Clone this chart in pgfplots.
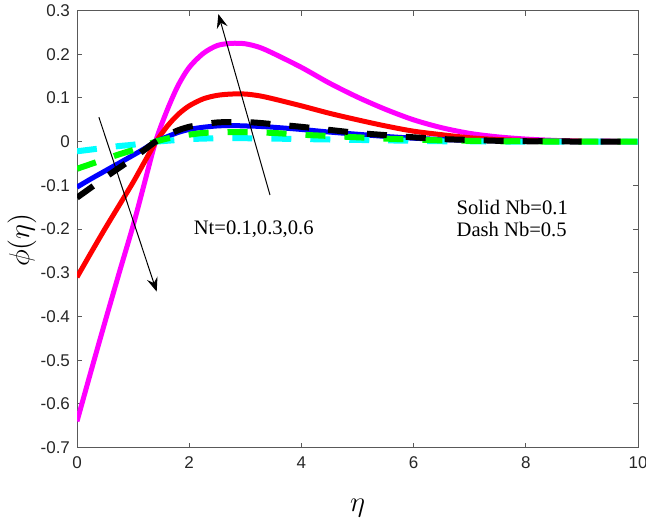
\documentclass[border=0pt]{standalone}
\usepackage{fontspec}
\setmainfont{Liberation Serif}
\newfontfamily\arial{Liberation Sans}
\usepackage{pgfplots}
\pgfplotsset{compat=1.18}
\usetikzlibrary{arrows.meta}
\definecolor{mag}{RGB}{255,0,255}
\definecolor{myred}{RGB}{255,0,0}
\definecolor{myblue}{RGB}{0,0,255}
\definecolor{mygreen}{RGB}{0,255,0}
\definecolor{mycyan}{RGB}{0,255,255}
\begin{document}
\begin{tikzpicture}
\path[use as bounding box] (-38.5pt,-35pt) rectangle (284.5pt,223.8pt);
\begin{axis}[
  at={(0,0)}, anchor=south west,
  scale only axis, width=280.5pt, height=218.5pt,
  xmin=0, xmax=10, ymin=-0.7, ymax=0.3,
  xtick={0,2,4,6,8,10},
  ytick={-0.7,-0.6,-0.5,-0.4,-0.3,-0.2,-0.1,0,0.1,0.2,0.3},
  tick align=inside,
  major tick length=2.5pt,
  axis line style={black!65, line width=0.5pt},
  every tick/.style={black!65, line width=0.5pt},
  /pgf/number format/assume math mode=true,
  tick label style={font=\arial\fontsize{8.5}{10}\selectfont, text=black!85},
  yticklabel style={/pgf/number format/fixed, /pgf/number format/precision=1},
  xticklabel style={yshift=-1pt},
  xlabel={$\eta$},
  ylabel={$\phi(\eta)$},
  every axis x label/.style={at={([yshift=-30pt]axis description cs:0.5,0)}, anchor=center, font=\fontsize{13.5}{15}\selectfont},
  every axis y label/.style={at={([xshift=-27.5pt]axis description cs:0,0.475)}, anchor=center, rotate=90, font=\fontsize{13.5}{15}\selectfont},
]
% Solid Nb=0.1, Nt=0.6 (magenta)
\addplot[mag, line width=2.5pt, smooth] coordinates {
(0,-0.640)(0.25,-0.525)(0.5,-0.412)(0.75,-0.301)(1.0,-0.192)(1.2,-0.096)(1.4,0)(1.6,0.070)(1.8,0.128)(2.0,0.170)(2.25,0.202)(2.5,0.220)(2.75,0.225)(3.0,0.224)(3.25,0.216)(3.5,0.202)(4.0,0.170)(4.5,0.134)(5.0,0.102)(5.5,0.074)(6.0,0.050)(6.5,0.032)(7.0,0.019)(7.5,0.011)(8.0,0.006)(8.5,0.003)(9.0,0.001)(9.5,0.001)(10,0)};
% Solid Nb=0.1, Nt=0.3 (red)
\addplot[myred, line width=2.5pt, smooth] coordinates {
(0,-0.310)(0.25,-0.254)(0.5,-0.199)(0.75,-0.146)(1.0,-0.093)(1.2,-0.047)(1.4,-0.002)(1.6,0.034)(1.8,0.062)(2.0,0.082)(2.25,0.098)(2.5,0.106)(2.75,0.109)(3.0,0.109)(3.25,0.105)(3.5,0.098)(4.0,0.082)(4.5,0.065)(5.0,0.050)(5.5,0.036)(6.0,0.024)(6.5,0.016)(7.0,0.009)(7.5,0.005)(8.0,0.003)(8.5,0.002)(9.0,0.001)(9.5,0)(10,0)};
% Solid Nb=0.1, Nt=0.1 (blue)
\addplot[myblue, line width=2.5pt, smooth] coordinates {
(0,-0.104)(0.25,-0.085)(0.5,-0.067)(0.75,-0.049)(1.0,-0.031)(1.2,-0.016)(1.4,0)(1.6,0.011)(1.8,0.021)(2.0,0.028)(2.25,0.033)(2.5,0.036)(2.75,0.037)(3.0,0.036)(3.25,0.035)(3.5,0.033)(4.0,0.028)(4.5,0.022)(5.0,0.017)(5.5,0.012)(6.0,0.008)(6.5,0.005)(7.0,0.003)(7.5,0.002)(8.0,0.001)(8.5,0.001)(9.0,0)(9.5,0)(10,0)};
% Dash Nb=0.5, cyan
\addplot[mycyan, line width=3pt, smooth, dash pattern=on 10pt off 9.5pt] coordinates {
(0,-0.022)(0.25,-0.018)(0.5,-0.014)(0.75,-0.010)(1.0,-0.007)(1.2,-0.003)(1.4,0)(1.6,0.002)(1.8,0.004)(2.0,0.006)(2.25,0.007)(2.5,0.008)(2.75,0.008)(3.0,0.008)(3.25,0.007)(3.5,0.007)(4.0,0.006)(4.5,0.005)(5.0,0.004)(5.5,0.003)(6.0,0.002)(6.5,0.001)(7.0,0.001)(7.5,0)(8.0,0)(8.5,0)(9.0,0)(9.5,0)(10,0)};
% Dash Nb=0.5, green
\addplot[mygreen, line width=3pt, smooth, dash pattern=on 10pt off 9.5pt] coordinates {
(0,-0.062)(0.25,-0.051)(0.5,-0.040)(0.75,-0.029)(1.0,-0.019)(1.2,-0.009)(1.4,0)(1.6,0.007)(1.8,0.012)(2.0,0.016)(2.25,0.020)(2.5,0.021)(2.75,0.022)(3.0,0.022)(3.25,0.021)(3.5,0.020)(4.0,0.016)(4.5,0.013)(5.0,0.010)(5.5,0.007)(6.0,0.005)(6.5,0.003)(7.0,0.002)(7.5,0.001)(8.0,0.001)(8.5,0)(9.0,0)(9.5,0)(10,0)};
% Dash Nb=0.5, black
\addplot[black, line width=3pt, smooth, dash pattern=on 10pt off 9.5pt] coordinates {
(0,-0.128)(0.25,-0.105)(0.5,-0.082)(0.75,-0.060)(1.0,-0.038)(1.2,-0.019)(1.4,0)(1.6,0.014)(1.8,0.026)(2.0,0.034)(2.25,0.040)(2.5,0.044)(2.75,0.045)(3.0,0.045)(3.25,0.043)(3.5,0.040)(4.0,0.034)(4.5,0.027)(5.0,0.020)(5.5,0.015)(6.0,0.010)(6.5,0.006)(7.0,0.004)(7.5,0.002)(8.0,0.001)(8.5,0.001)(9.0,0)(9.5,0)(10,0)};
% arrows
\draw[black, line width=0.5pt, -{Stealth[length=7pt,width=5.5pt,inset=2.5pt]}] (axis cs:0.39,0.056) -- (axis cs:1.42,-0.343);
\draw[black, line width=0.5pt, -{Stealth[length=7pt,width=5.5pt,inset=2.5pt]}] (axis cs:3.44,-0.122) -- (axis cs:2.52,0.292);
% annotations
\node[font=\fontsize{10.3}{12}\selectfont, anchor=center] at (axis cs:3.15,-0.200) {Nt=0.1,0.3,0.6};
\node[font=\fontsize{10.3}{12}\selectfont, anchor=west, inner sep=0pt] at (axis cs:6.76,-0.150) {Solid Nb=0.1};
\node[font=\fontsize{10.3}{12}\selectfont, anchor=west, inner sep=0pt] at (axis cs:6.76,-0.2005) {Dash Nb=0.5};
\end{axis}
\end{tikzpicture}
\end{document}
